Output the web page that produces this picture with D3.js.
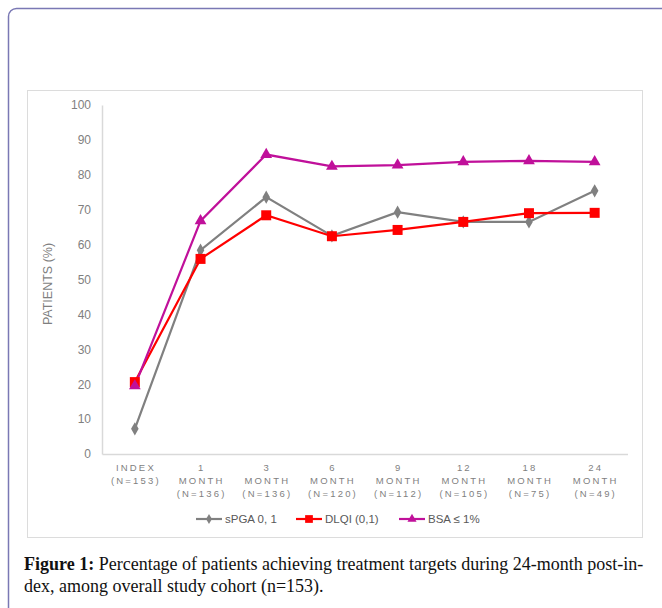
<!DOCTYPE html>
<html><head><meta charset="utf-8">
<script src="https://cdn.jsdelivr.net/npm/d3@7"></script>
<style>body{margin:0;background:#fff;}svg{display:block;}</style>
</head><body>
<script>
const categories = ["INDEX","1 MONTH","3 MONTH","6 MONTH","9 MONTH","12 MONTH","18 MONTH","24 MONTH"];
const labelLines = [["INDEX","(N=153)"],["1","MONTH","(N=136)"],["3","MONTH","(N=136)"],["6","MONTH","(N=120)"],["9","MONTH","(N=112)"],["12","MONTH","(N=105)"],["18","MONTH","(N=75)"],["24","MONTH","(N=49)"]];
const sPGA = [7.2, 58.4, 73.6, 62.5, 69.3, 66.5, 66.5, 75.4];
const DLQI = [20.6, 55.9, 68.4, 62.4, 64.2, 66.5, 69.0, 69.1];
const BSA  = [19.5, 66.8, 85.8, 82.4, 82.8, 83.7, 84.0, 83.7];
const seriesNames = ["sPGA 0, 1","DLQI (0,1)","BSA \u2264 1%"];
const yTicks = [0,10,20,30,40,50,60,70,80,90,100];

const W=662,H=608;
const svg=d3.select("body").append("svg").attr("width",W).attr("height",H);

// outer rounded frame
svg.append("rect").attr("x",8.5).attr("y",8.5).attr("width",700).attr("height",700)
  .attr("rx",8).attr("fill","none").attr("stroke","#7a78b4").attr("stroke-width",1.5);
// chart box
svg.append("rect").attr("x",27.5).attr("y",90.5).attr("width",615).attr("height",447)
  .attr("fill","#fff").attr("stroke","#dcdcdc").attr("stroke-width",1);

const x=d3.scaleBand().domain(categories).range([102,627.5]);
const y=d3.scaleLinear().domain([0,100]).range([454,105]);

// y axis
const ya=svg.append("g").attr("transform","translate(102,0)").call(d3.axisLeft(y).tickValues(yTicks).tickSize(0).tickPadding(11));
ya.select(".domain").attr("stroke","#d9d9d9").attr("stroke-width",1.5);
ya.selectAll("text").attr("font-family","Liberation Sans, Arial, sans-serif").attr("font-size",12).attr("fill","#7f7f7f");

// x axis
const xa=svg.append("g").attr("transform","translate(0,454)").call(d3.axisBottom(x).tickSize(0).tickFormat(""));
xa.select(".domain").attr("stroke","#d9d9d9").attr("stroke-width",1.5);
categories.forEach((c,i)=>{
  const t=svg.append("text").attr("x",x(c)+x.bandwidth()/2).attr("y",471)
    .attr("text-anchor","middle").attr("font-family","Liberation Sans, Arial, sans-serif")
    .attr("font-size",9.5).attr("fill","#7f7f7f").attr("letter-spacing","2.2px");
  labelLines[i].forEach((l,j)=>t.append("tspan").attr("x",x(c)+x.bandwidth()/2+1.1).attr("dy",j?13:0).text(l));
});

// y label
svg.append("text").attr("transform","translate(52,284) rotate(-90)").attr("text-anchor","middle")
  .attr("font-family","Liberation Sans, Arial, sans-serif").attr("font-size",12.5).attr("fill","#7f7f7f").text("PATIENTS (%)");

const cx=c=>x(c)+x.bandwidth()/2;
const line=d3.line().x((d,i)=>cx(categories[i])).y(d=>y(d));
const defs=[
  {name:seriesNames[0],data:sPGA,color:"#808080",sym:d3.symbolDiamond,size:50},
  {name:seriesNames[1],data:DLQI,color:"#ff0000",sym:d3.symbolSquare,size:100},
  {name:seriesNames[2],data:BSA,color:"#c0109a",sym:d3.symbolTriangle,size:60}
];
defs.forEach(s=>{
  svg.append("path").datum(s.data).attr("d",line).attr("fill","none").attr("stroke",s.color).attr("stroke-width",2.2);
});
defs.forEach(s=>{
  svg.selectAll(null).data(s.data).enter().append("path")
    .attr("d",d3.symbol().type(s.sym).size(s.size))
    .attr("transform",(d,i)=>`translate(${cx(categories[i])},${y(d)})`)
    .attr("fill",s.color);
});

// legend
const lx=[196,296,399];
defs.forEach((s,i)=>{
  const g=svg.append("g").attr("transform",`translate(${lx[i]},519)`);
  g.append("line").attr("x1",0).attr("x2",26).attr("stroke",s.color).attr("stroke-width",2.2);
  g.append("path").attr("d",d3.symbol().type(s.sym).size(s.size*0.6)).attr("transform","translate(13,0)").attr("fill",s.color);
  g.append("text").attr("x",29).attr("y",4).attr("font-family","Liberation Sans, Arial, sans-serif")
    .attr("font-size",11.5).attr("fill","#595959").text(s.name);
});

// caption
const cap=svg.append("g").attr("font-family","Liberation Serif, Times New Roman, serif").attr("font-size",18).attr("fill","#111");
const t1=cap.append("text").attr("x",24).attr("y",570);
t1.append("tspan").attr("font-weight","bold").text("Figure 1:");
t1.append("tspan").text(" Percentage of patients achieving treatment targets during 24-month post-in-");
cap.append("text").attr("x",24).attr("y",592).text("dex, among overall study cohort (n=153).");
</script>
</body></html>
